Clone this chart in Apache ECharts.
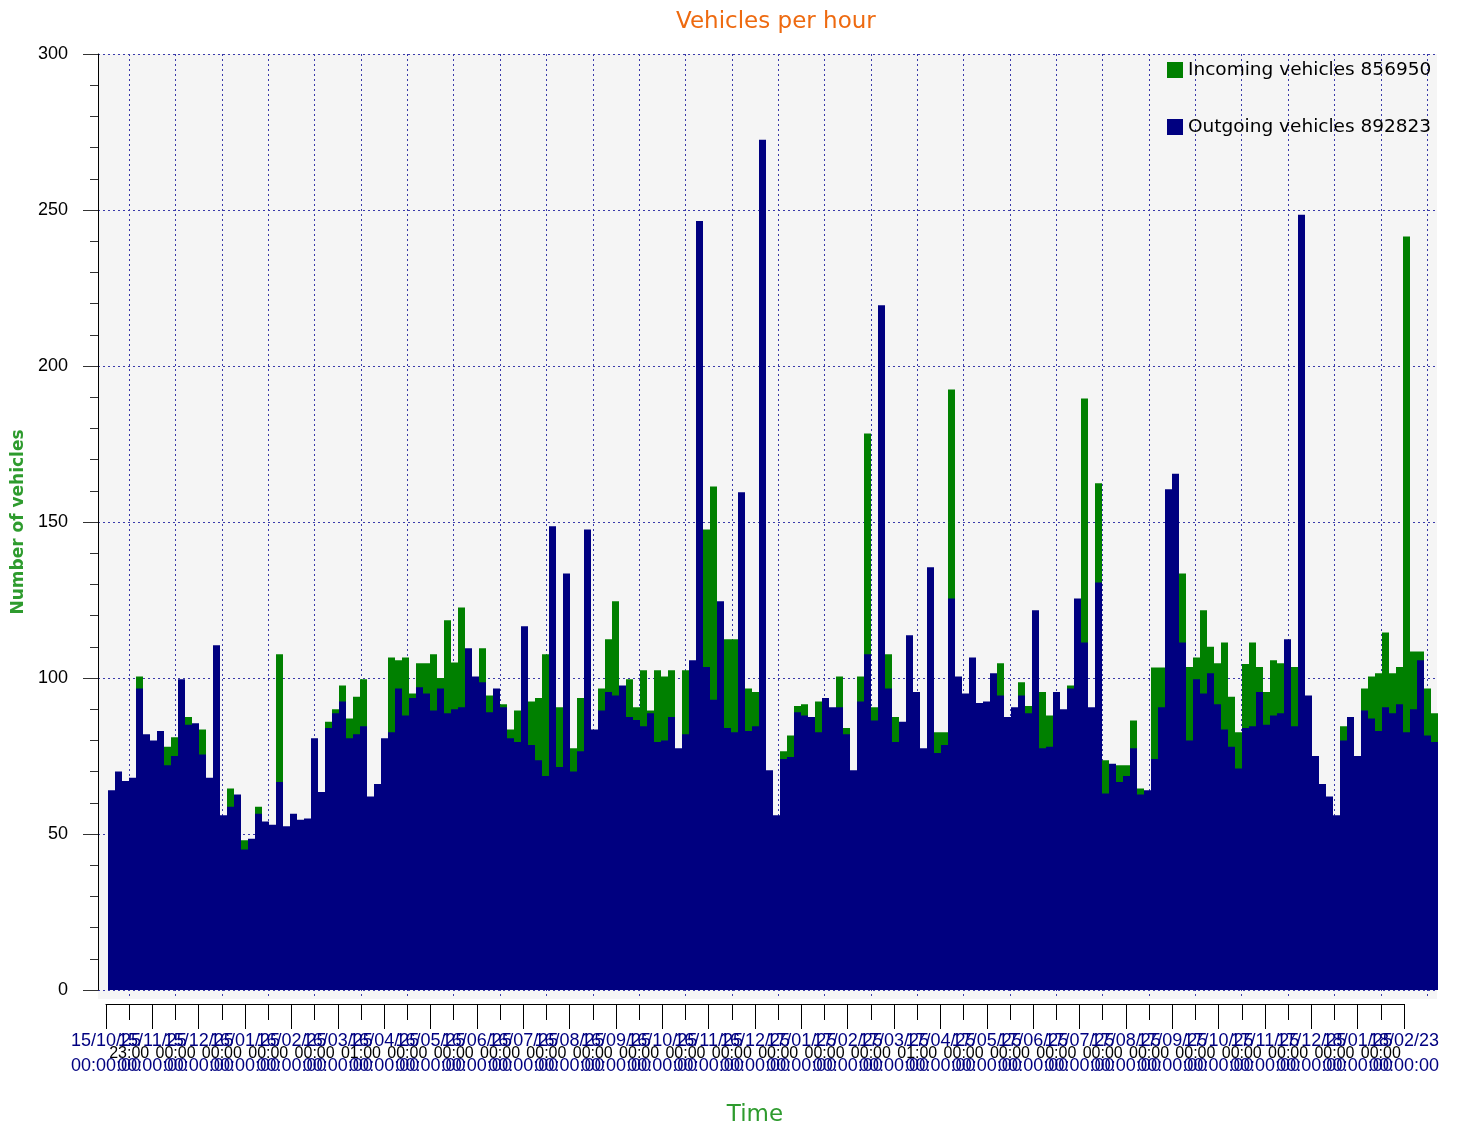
<!DOCTYPE html>
<html>
<head>
<meta charset="utf-8">
<script src="https://cdn.jsdelivr.net/npm/echarts@6/dist/echarts.min.js"></script>
<style>
html,body{margin:0;padding:0;background:#ffffff;}
#chart{width:1460px;height:1135px;}
</style>
</head>
<body>
<div id="chart"></div>
<script>
// ---------- DATA ----------
const chartTitle = 'Vehicles per hour';
const incomingTotal = 856950;
const outgoingTotal = 892823;

// Major (monthly) tick labels: date line + clock line
const dateLabels = ['15/10/25','15/11/25','15/12/25','16/01/25','16/02/25','16/03/25','16/04/25','16/05/25',
  '16/06/25','16/07/25','16/08/25','16/09/25','16/10/25','16/11/25','16/12/25','17/01/25','17/02/25',
  '17/03/25','17/04/25','17/05/25','17/06/25','17/07/25','17/08/25','17/09/25','17/10/25','17/11/25',
  '17/12/25','18/01/25','18/02/23'];
const clockLabels = ['00:00:00','00:00:00','00:00:00','00:00:00','00:00:00','00:00:00','00:00:00','00:00:00',
  '00:00:00','00:00:00','00:00:00','00:00:00','00:00:00','00:00:00','00:00:00','00:00:00','00:00:00',
  '00:00:00','00:00:00','00:00:00','00:00:00','00:00:00','00:00:00','00:00:00','00:00:00','00:00:00',
  '00:00:00','00:00:00','00:00:00'];
// Mid-month tick labels
const timeLabels = ['23:00','00:00','00:00','00:00','00:00','01:00','00:00','00:00','00:00','00:00',
  '00:00','00:00','00:00','00:00','00:00','00:00','00:00','01:00','00:00','00:00','00:00','00:00',
  '00:00','00:00','00:00','00:00','00:00','00:00'];

// Vehicles per hour, one value per period
const incoming = [
  60,66,63,65,100.5,78,76,78,78,81, 95,87.5,82,83.5,64,105,52,64.6,59,48,
  46,58.7,51,50,107.6,50,53,52,52,77, 60,86,90,97.6,87,94,99.6,58,65,79,
  106.6,105.7,106.6,95,104.7,104.7,107.6,100,118.5,105, 122.6,100,98,109.5,94.4,93,91.6,83.5,89.6,99,
  92.5,93.6,107.6,85,90.6,80,77.5,93.6,75,80, 96.6,112.4,124.6,96,99.6,90.6,102.5,89.6,102.5,100.5,
  102.5,75.5,102.5,100,142.5,147.6,161.4,110,112.4,112.4, 96.6,96.6,95.5,80,68,53,76.5,81.6,91,91.6,
  84,92.5,89,88,100.5,84,66,100.5,178.4,90.6, 85,107.6,87.5,84,105,92,75,70,82.6,82.6,
  192.5,95,92,100,88,89,97,104.7,84,87, 98.6,91,95.5,95.5,88,91,87,97.6,100,189.6,
  86,162.4,73.6,69,72,72,86.4,64.6,62,103.4, 103.4,150,150,133.5,103.5,106.6,121.7,110,104.7,111.4,
  94,82.6,104.5,111.4,103.5,95.5,105.7,104.7,103.5,103.5, 95.5,92.5,72,63,58.7,53,84.5,84,72,96.6,
  100.5,101.5,114.6,101.5,103.5,241.5,108.5,108.5,96.6,88.7
];
const outgoing = [
  64,70,67,68,96.6,82,80,83,72,75, 99.6,85,85.5,75.5,68,110.5,56,58.7,62.7,45,
  48.5,56.5,54,53,66.7,52.5,56.5,54.6,55,80.7, 63.5,84,88.7,92.5,80.7,82,84.5,62,66,80.7,
  82.6,96.6,88,93.6,97,95,89.6,96.6,88.7,90, 90.6,109.5,100.5,98.6,89,96.6,90.6,80.7,79.5,116.6,
  78.5,73.6,68.6,148.6,71.5,133.5,70,76.5,147.6,83.5, 89.6,95.5,94.4,97.6,87.5,86.5,84.5,88.7,79.5,80,
  87.5,77.5,82,105.7,246.5,103.5,93,124.6,84,82.6, 159.5,83,84.5,272.5,70.4,56,74,74.7,89,88,
  87.5,82.6,93.6,90.6,90.6,82,70.4,92.5,107.6,86.4, 219.5,96.6,79.5,86,113.7,95.5,77.5,135.5,76,78.5,
  125.5,100.5,95,106.6,92,92.5,101.5,94.4,87.5,90.6, 94.4,88.7,121.7,77.5,78,95.5,90,96.6,125.5,111.4,
  90.6,130.6,63,72.5,66.7,68.6,77.5,62.7,64,74, 90.6,160.5,165.5,111.4,80,99.6,95,101.5,91.6,83.5,
  78,71,84,84.5,95.5,85,88,88.7,112.4,84.5, 248.5,94.4,75,66,62,56,80,87.5,75,89.6,
  87,83,90.6,88.7,91.6,82.6,90,105.7,81.6,79.5
];
const periods = incoming.map((_, i) => String(i));

// ---------- LAYOUT ----------
const firstTickX = 106, lastTickX = 1404;             // pixel x of first / last month tick
const nMonths = dateLabels.length - 1;
const pxPerMonth = (lastTickX - firstTickX) / nMonths;
const plotTop = 54, zeroY = 990, plotBottomY = 999, axisY = 1004;
const bgLeft = 98, bgRight = 1437;
const W = 1460, H = 1135;

const gridLineStyle = {color: '#3a3aaa', type: [2, 3], width: 1};
const dateLabelStyle = {margin: 25, fontSize: 18, lineHeight: 25, color: '#000080', fontFamily: 'Liberation Sans',
                        showMinLabel: true, showMaxLabel: true, hideOverlap: false};
const dateText = i => (dateLabels[i] ? dateLabels[i] + '\n' + clockLabels[i] : '');

const chart = echarts.init(document.getElementById('chart'), null, {renderer: 'canvas'});

const option = {
  animation: false,
  backgroundColor: '#ffffff',
  title: {
    text: chartTitle,
    left: 671, top: 6,
    textStyle: {fontFamily: 'DejaVu Sans', fontSize: 23, fontWeight: 'normal', color: '#ee6a10'}
  },
  legend: {
    orient: 'vertical',
    left: 1162, top: 54,
    icon: 'rect',
    itemWidth: 16, itemHeight: 16, itemGap: 35,
    textStyle: {fontFamily: 'DejaVu Sans', fontSize: 18.5, color: '#000000', lineHeight: 22},
    data: ['Incoming vehicles ' + incomingTotal, 'Outgoing vehicles ' + outgoingTotal]
  },
  graphic: [{
    type: 'rect', silent: true, z: -10,
    shape: {x: bgLeft, y: plotTop, width: bgRight - bgLeft, height: plotBottomY - plotTop},
    style: {fill: '#f5f5f5'}
  }],
  grid: [
    {left: 108, right: W - (108 + 7 * incoming.length), top: plotTop, bottom: H - zeroY},      // 0 bars
    {left: bgLeft, right: W - bgRight, top: plotTop, bottom: H - zeroY},                      // 1 y axis
    {left: firstTickX + 0.5 * pxPerMonth, right: W - (firstTickX + (nMonths + 0.5) * pxPerMonth),
     top: plotTop, bottom: H - plotBottomY},                                                   // 2 vertical grid lines
    {left: firstTickX, right: W - lastTickX, top: plotTop, bottom: H - axisY},                // 3 date axis (even labels)
    {left: firstTickX + pxPerMonth, right: W - (firstTickX + (nMonths - 1) * pxPerMonth),
     top: plotTop, bottom: H - axisY}                                                          // 4 odd labels
  ],
  xAxis: [
    {gridIndex: 0, type: 'category', data: periods, show: false, boundaryGap: true},
    {gridIndex: 1, type: 'value', show: false, min: 0, max: 1},
    {gridIndex: 2, type: 'value', min: 0.5, max: nMonths + 0.5, interval: 1,
     axisLine: {show: false}, axisTick: {show: false},
     splitLine: {show: true, lineStyle: gridLineStyle},
     axisLabel: {
       formatter: v => timeLabels[Math.round(v - 0.5)] || '',
       margin: 46, fontSize: 16, lineHeight: 17, color: '#000000', fontFamily: 'Liberation Sans',
       showMinLabel: true, showMaxLabel: true, hideOverlap: false
     }},
    {gridIndex: 3, type: 'value', min: 0, max: nMonths, interval: 1,
     axisLine: {show: true, onZero: false, lineStyle: {color: '#000000', width: 1}},
     axisTick: {show: true, length: 25, lineStyle: {color: '#000000'}},
     minorTick: {show: true, splitNumber: 2, length: 16, lineStyle: {color: '#000000'}},
     splitLine: {show: false},
     axisLabel: Object.assign({formatter: v => (Math.round(v) % 2 === 0 ? dateText(Math.round(v)) : '')}, dateLabelStyle),
     name: 'Time', nameLocation: 'middle', nameGap: 100,
     nameTextStyle: {fontFamily: 'DejaVu Sans', fontSize: 23, color: '#2e9b2e'}},
    {gridIndex: 4, type: 'value', min: 1, max: nMonths - 1, interval: 2,
     axisLine: {show: false, onZero: false}, axisTick: {show: false}, splitLine: {show: false},
     axisLabel: Object.assign({formatter: v => dateText(Math.round(v))}, dateLabelStyle)}
  ],
  yAxis: [
    {gridIndex: 0, type: 'value', min: 0, max: 300, show: false},
    {gridIndex: 1, type: 'value', min: 0, max: 300, interval: 50, offset: 5,
     axisLine: {show: true, lineStyle: {color: '#000000', width: 1}},
     axisTick: {show: true, length: 15, lineStyle: {color: '#333333'}},
     minorTick: {show: true, splitNumber: 5, length: 8, lineStyle: {color: '#333333'}},
     axisLabel: {fontSize: 18, color: '#000000', margin: 25, fontFamily: 'Liberation Sans',
                 showMinLabel: true, showMaxLabel: true},
     splitLine: {show: true, lineStyle: gridLineStyle},
     name: 'Number of vehicles', nameLocation: 'middle', nameGap: 64,
     nameTextStyle: {fontFamily: 'DejaVu Sans', fontWeight: 'bold', fontSize: 17, color: '#2e9b2e'}},
    {gridIndex: 2, type: 'value', show: false, min: 0, max: 1},
    {gridIndex: 3, type: 'value', show: false, min: 0, max: 1},
    {gridIndex: 4, type: 'value', show: false, min: 0, max: 1}
  ],
  series: [
    {type: 'bar', name: 'Incoming vehicles ' + incomingTotal, xAxisIndex: 0, yAxisIndex: 0,
     data: incoming, barWidth: '100%', barGap: '-100%', itemStyle: {color: '#008000'}},
    {type: 'bar', name: 'Outgoing vehicles ' + outgoingTotal, xAxisIndex: 0, yAxisIndex: 0,
     data: outgoing, barWidth: '100%', barGap: '-100%', itemStyle: {color: '#000080'}}
  ]
};
chart.setOption(option);
</script>
</body>
</html>
